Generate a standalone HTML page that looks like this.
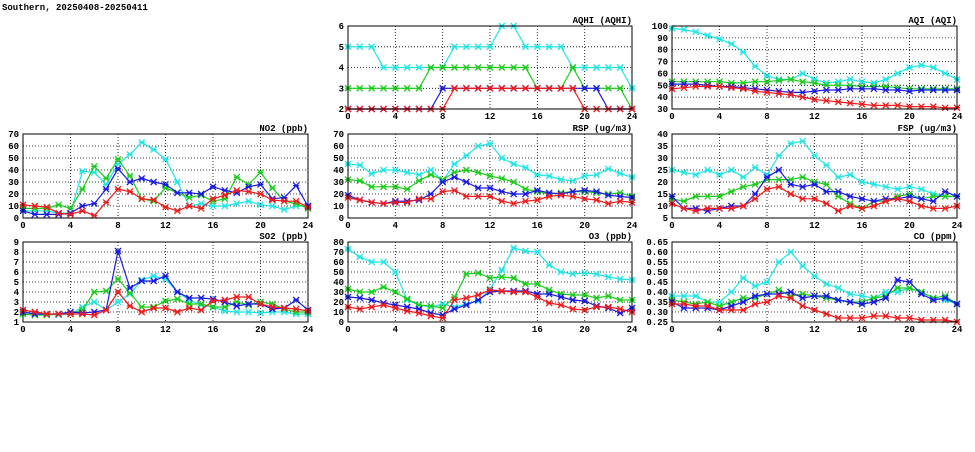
<!DOCTYPE html>
<html><head><meta charset="utf-8"><style>
body{margin:0;background:#fff;width:975px;height:447px;overflow:hidden}
svg text{font-family:"Liberation Mono",monospace;font-weight:bold;font-size:9px;fill:#000}
</style></head><body>
<svg id="s" width="975" height="447" xmlns="http://www.w3.org/2000/svg">
<text x="2" y="10">Southern, 20250408-20250411</text>
</svg>
<script>
const C={c:'#22e5e5',g:'#1ccc1c',b:'#1a1ae6',r:'#ee1c1c'};
const P=[
{t:'AQHI (AQHI)',x:348,y:26,w:284,h:83,min:2,max:6,step:1,fmt:v=>v,
 d:{c:[5,5,5,4,4,4,4,4,4,5,5,5,5,6,6,5,5,5,5,4,4,4,4,4,3],g:[3,3,3,3,3,3,3,4,4,4,4,4,4,4,4,4,3,3,3,4,3,3,3,3,2],b:[2,2,2,2,2,2,2,2,3,3,3,3,3,3,3,3,3,3,3,3,3,3,2,2,2],r:[2,2,2,2,2,2,2,2,2,3,3,3,3,3,3,3,3,3,3,3,2,2,2,2,2]}},
{t:'AQI (AQI)',x:672,y:26,w:285,h:83,min:30,max:100,step:10,fmt:v=>v,
 d:{c:[98,97,95,92,89,85,78,66,58,55,55,60,55,52,53,55,53,52,55,60,65,67,65,60,55],g:[53,53,53,53,53,52,52,53,53,54,55,53,52,50,50,50,49,49,49,48,47,47,47,47,47],b:[51,51,51,50,49,49,48,47,46,45,44,44,45,46,46,47,47,47,46,46,45,46,46,46,46],r:[47,48,49,49,49,48,47,45,44,43,42,40,38,37,36,35,34,33,33,33,32,32,32,31,31]}},
{t:'NO2 (ppb)',x:23,y:134,w:285,h:84,min:0,max:70,step:10,fmt:v=>v,
 d:{c:[6,6,6,4,4,39,38,28,45,53,63,57,49,30,10,12,10,10,12,14,11,10,7,10,10],g:[8,8,8,11,8,24,43,33,49,35,16,14,25,21,17,19,14,16,34,28,38,25,14,12,8],b:[6,3,3,3,4,10,12,24,41,30,33,30,28,21,21,20,26,23,21,26,28,16,17,27,10],r:[11,10,9,4,3,6,2,13,24,22,16,15,9,6,10,8,16,19,23,22,20,15,14,14,9]}},
{t:'RSP (ug/m3)',x:348,y:134,w:284,h:84,min:0,max:70,step:10,fmt:v=>v,
 d:{c:[45,44,37,40,40,38,36,40,31,45,52,60,62,50,45,42,36,35,32,31,35,36,41,37,34],g:[32,31,26,26,26,24,31,36,32,38,40,38,35,33,30,24,22,20,21,22,22,21,20,21,18],b:[19,15,13,12,14,14,15,20,30,34,30,25,25,22,20,20,23,21,20,22,23,22,19,18,17],r:[17,15,13,12,13,13,16,16,22,23,18,18,18,14,12,14,15,18,19,18,16,15,12,14,13]}},
{t:'FSP (ug/m3)',x:672,y:134,w:285,h:84,min:5,max:40,step:5,fmt:v=>v,
 d:{c:[25,24,23,25,23,25,22,26,23,31,36,37,31,27,22,23,20,19,18,17,18,17,15,14,14],g:[13,12,14,14,14,16,18,19,21,21,21,22,20,19,14,11,9,12,12,14,15,13,14,14,14],b:[14,9,9,8,9,10,10,15,22,25,19,18,19,16,16,14,13,12,13,13,14,13,12,16,14],r:[11,9,8,9,9,9,10,13,17,18,15,13,13,11,8,10,9,10,12,13,12,10,9,9,10]}},
{t:'SO2 (ppb)',x:23,y:242,w:285,h:80,min:1,max:9,step:1,fmt:v=>v,
 d:{c:[2,1.8,1.8,1.7,1.8,2.5,3,2.2,3,3.8,5.2,5.6,5.3,4,3.2,2.7,2.5,2.1,2,2,1.9,2,2,1.8,1.8],g:[1.8,1.7,1.7,1.8,1.8,2.2,4,4.1,5.3,3.9,2.5,2.5,3.1,3.3,2.8,2.8,2.5,2.5,3,2.7,3,2.8,2.3,2,2],b:[2,1.8,1.8,1.8,2,1.9,2,2.2,8.1,4.4,5.1,5.1,5.6,4,3.4,3.4,3.3,3,2.6,2.8,2.8,2.3,2.4,3.2,2.2],r:[2.2,2,1.8,1.8,1.8,1.8,1.7,2.2,4,2.6,2,2.4,2.4,2,2.4,2.2,3.1,3.2,3.5,3.5,2.8,2.5,2.4,2.3,2.1]}},
{t:'O3 (ppb)',x:348,y:242,w:284,h:80,min:0,max:80,step:10,fmt:v=>v,
 d:{c:[73,65,60,60,50,22,17,15,18,15,18,21,33,52,74,71,70,57,50,48,49,48,45,43,42],g:[33,30,30,35,30,23,17,16,14,25,48,49,44,45,44,38,38,32,28,27,27,24,26,22,22],b:[25,24,22,19,17,15,13,9,7,13,17,22,30,31,31,31,28,28,25,22,21,16,14,9,14],r:[15,13,15,17,14,11,9,6,4,22,24,27,32,31,30,30,25,19,17,13,12,15,15,13,10]}},
{t:'CO (ppm)',x:672,y:242,w:285,h:80,min:0.25,max:0.65,step:0.05,fmt:v=>v.toFixed(2),
 d:{c:[.38,.38,.38,.35,.35,.40,.47,.43,.45,.55,.60,.53,.48,.44,.42,.39,.38,.37,.40,.40,.42,.40,.37,.36,.34],g:[.36,.35,.34,.35,.33,.35,.37,.37,.39,.41,.38,.39,.38,.37,.36,.35,.35,.37,.38,.42,.42,.40,.37,.38,.34],b:[.35,.32,.32,.32,.31,.33,.35,.38,.39,.39,.40,.37,.38,.38,.36,.35,.34,.35,.37,.46,.45,.39,.36,.37,.34],r:[.34,.34,.33,.33,.31,.31,.31,.34,.35,.38,.37,.33,.31,.29,.27,.27,.27,.28,.28,.27,.27,.26,.26,.26,.25]}}
];
let h='';
for(const p of P){
 const n=Math.round((p.max-p.min)/p.step);
 const Y=v=>p.y+p.h-(v-p.min)/(p.max-p.min)*p.h, X=i=>p.x+i/24*p.w;
 for(let k=0;k<=n;k++){const v=p.min+k*p.step,y=Y(v).toFixed(1);
  if(k>0&&k<n)h+=`<line x1="${p.x}" y1="${y}" x2="${p.x+p.w}" y2="${y}" stroke="#000" stroke-width="0.8" stroke-dasharray="1,2"/>`;
  h+=`<text x="${p.x-4}" y="${+y+3}" text-anchor="end">${p.fmt(v)}</text>`;}
 for(let i=0;i<=24;i+=4){const x=X(i);
  if(i>0&&i<24)h+=`<line x1="${x}" y1="${p.y}" x2="${x}" y2="${p.y+p.h}" stroke="#000" stroke-width="0.8" stroke-dasharray="1,2"/>`;
  h+=`<text x="${x}" y="${p.y+p.h+10}" text-anchor="middle">${i}</text>`;}
 for(const k of ['c','g','b','r']){const a=p.d[k];
  h+=`<polyline fill="none" stroke="${C[k]}" stroke-width="1.2" points="${a.map((v,i)=>X(i).toFixed(1)+','+Y(v).toFixed(1)).join(' ')}"/>`;
  a.forEach((v,i)=>{const x=X(i),y=Y(v);
   h+=`<path d="M${x-3},${y-3}L${x+3},${y+3}M${x-3},${y+3}L${x+3},${y-3}M${x-3},${y}L${x+3},${y}" stroke="${C[k]}" stroke-width="1.3"/>`;});}
 h+=`<rect x="${p.x}" y="${p.y}" width="${p.w}" height="${p.h}" fill="none" stroke="#000" stroke-width="1"/>`;
 h+=`<text x="${p.x+p.w}" y="${p.y-3}" text-anchor="end">${p.t}</text>`;
}
document.getElementById('s').insertAdjacentHTML('beforeend',h);
</script>
</body></html>
